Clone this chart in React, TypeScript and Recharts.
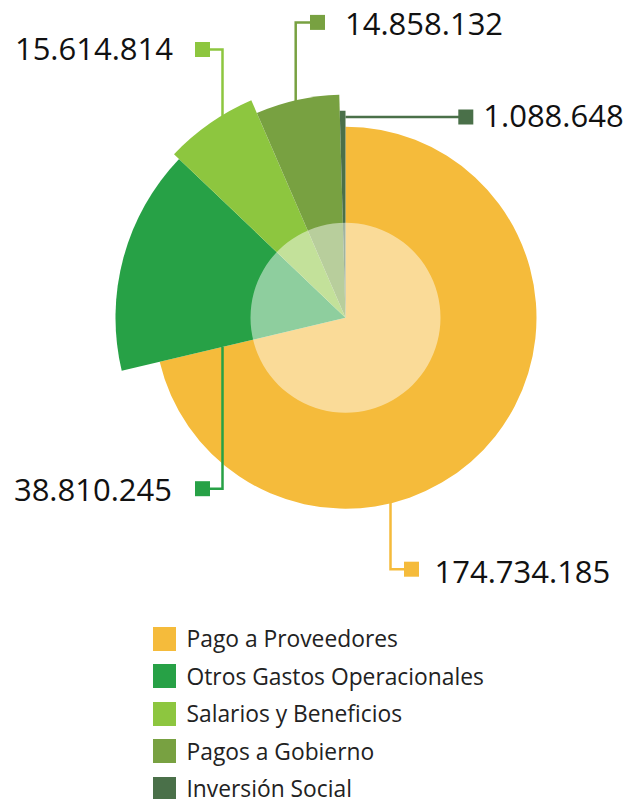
import { PieChart, Pie, Cell, Legend } from "recharts";

const CATEGORIES = [
  "Pago a Proveedores",
  "Otros Gastos Operacionales",
  "Salarios y Beneficios",
  "Pagos a Gobierno",
  "Inversión Social",
];
const VALUES = [174734185, 38810245, 15614814, 14858132, 1088648];

const COLORS = ["#F5BB3B", "#27A146", "#8DC63F", "#78A141", "#4A7049"];
// each slice has its own outer radius (rose style)
const RADII = [191, 230, 237, 223, 207];

const CX = 345.5;
const CY = 317.7;
const FONT = "'Open Sans', sans-serif";

// leader line layout, relative to the pie centre
// lx: x of the vertical run, sy: start y (null = on the arc), ty: y of the elbow
// sx: square centre x, tx: text x, by: text baseline below ty
const LEADERS = [
  { lx: 45, sy: null, ty: 251.5, sx: 66, tx: 89, by: 14, anchor: "start" },
  { lx: -123, sy: 29, ty: 171, sx: -143, tx: -173.5, by: 12, anchor: "end" },
  { lx: -123, sy: null, ty: -268.2, sx: -143, tx: -172.5, by: 10.5, anchor: "end" },
  { lx: -49.8, sy: null, ty: -295.3, sx: -28, tx: -0.5, by: 12.5, anchor: "start" },
  { lx: 0, sy: -200.7, ty: -200.7, sx: 120.3, tx: 137.8, by: 10, anchor: "start" },
];

const data = CATEGORIES.map((name, i) => ({ name, value: VALUES[i] }));

function formatValue(v: number) {
  return String(v).replace(/\B(?=(\d{3})+(?!\d))/g, ".");
}

function makeLabel(target: number) {
  return (props: any) => {
    if (props.index !== target) return null;
    const { cx, cy, outerRadius } = props;
    const L = LEADERS[target];
    const sy =
      L.sy ?? Math.sign(L.ty) * (Math.sqrt(outerRadius * outerRadius - L.lx * L.lx) - 1);
    const pts = [
      [L.lx, sy],
      [L.lx, L.ty],
      [L.sx, L.ty],
    ]
      .map(([x, y]) => `${cx + x},${cy + y}`)
      .join(" ");
    return (
      <g>
        <polyline points={pts} fill="none" stroke={COLORS[target]} strokeWidth={2.5} />
        <rect
          x={cx + L.sx - 7.5}
          y={cy + L.ty - 7.5}
          width={15}
          height={15}
          fill={COLORS[target]}
        />
        <text
          x={cx + L.tx}
          y={cy + L.ty + L.by}
          textAnchor={L.anchor as any}
          fontSize={31}
          fontFamily={FONT}
          fill="#111"
        >
          {formatValue(props.value)}
        </text>
      </g>
    );
  };
}

function LegendBox() {
  return (
    <div style={{ fontFamily: FONT }}>
      {CATEGORIES.map((c, i) => (
        <div key={c} style={{ display: "flex", alignItems: "center", height: 37.5 }}>
          <span
            style={{ width: 23, height: 24, background: COLORS[i], marginRight: 10.5, flex: "none" }}
          />
          <span style={{ fontSize: 22.8, color: "#222", whiteSpace: "nowrap" }}>{c}</span>
        </div>
      ))}
    </div>
  );
}

export default function App() {
  return (
    <div style={{ position: "absolute", left: 0, top: 0, width: 636, height: 799, background: "#fff" }}>
      <PieChart width={636} height={799} margin={{ top: 0, right: 0, bottom: 0, left: 0 }}>
        {CATEGORIES.map((_, i) => (
          <Pie
            key={i}
            data={data}
            dataKey="value"
            nameKey="name"
            cx={CX}
            cy={CY}
            outerRadius={RADII[i]}
            startAngle={90}
            endAngle={-270}
            stroke="none"
            legendType="none"
            isAnimationActive={false}
            label={makeLabel(i)}
            labelLine={false}
          >
            {data.map((d, j) => (
              <Cell key={d.name} fill={j === i ? COLORS[i] : "transparent"} />
            ))}
          </Pie>
        ))}
        <Pie
          data={[{ name: "centro", value: 1 }]}
          dataKey="value"
          cx={CX}
          cy={CY}
          outerRadius={95}
          startAngle={90}
          endAngle={-270}
          stroke="none"
          legendType="none"
          isAnimationActive={false}
        >
          <Cell fill="rgba(255,255,255,0.48)" />
        </Pie>
        <Legend
          wrapperStyle={{ left: 153, top: 620, width: "auto" }}
          content={() => <LegendBox />}
        />
      </PieChart>
    </div>
  );
}
